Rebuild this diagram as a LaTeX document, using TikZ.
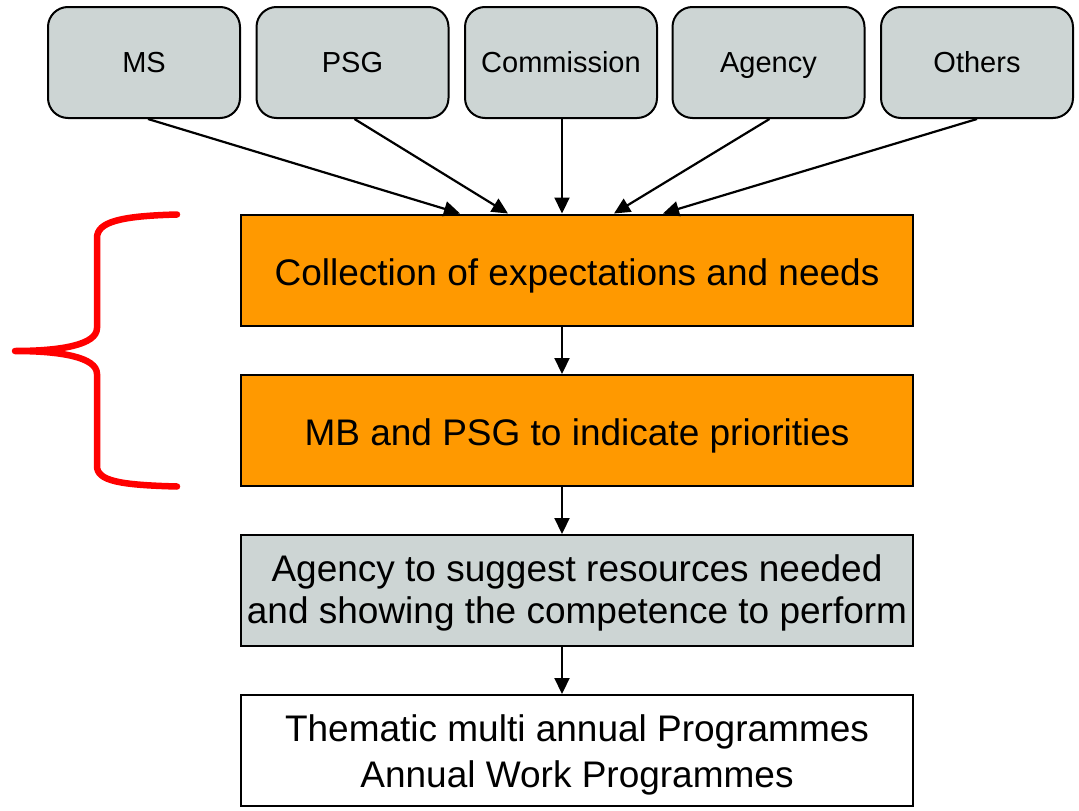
\documentclass[tikz,border=0pt]{standalone}
\usepackage{fontspec}
\setmainfont{Liberation Sans}
\usetikzlibrary{arrows.meta}
\definecolor{boxgray}{RGB}{205,213,212}
\definecolor{boxorange}{RGB}{255,153,0}
\definecolor{bracered}{RGB}{255,0,0}
\tikzset{
  topbox/.style={draw=black, line width=2pt, fill=boxgray, rounded corners=20pt,
    minimum width=192pt, minimum height=111pt, inner sep=0pt,
    text height=25pt, text depth=5pt,
    font=\fontsize{29}{34}\selectfont},
  mainbox/.style={draw=black, line width=2pt, minimum width=672pt, minimum height=111pt,
    inner sep=0pt, align=center, font=\fontsize{37}{42}\selectfont},
  oneline/.style={text height=35pt, text depth=5pt},
  arr/.style={line width=2.2pt, -{Triangle[length=16pt,width=15pt]}},
}
\begin{document}
\begin{tikzpicture}[x=1pt,y=-1pt]
\useasboundingbox (0,0) rectangle (1079,811);
% top boxes
\node[topbox] (ms) at (144,62.5) {MS};
\node[topbox] (psg) at (352.5,62.5) {PSG};
\node[topbox] (com) at (561,62.5) {Commission};
\node[topbox] (ag) at (768.5,62.5) {Agency};
\node[topbox] (oth) at (977,62.5) {Others};
% main boxes
\node[mainbox, oneline, fill=boxorange] (coll) at (577,270) {Collection of expectations and needs};
\node[mainbox, oneline, fill=boxorange] (prio) at (577,430.5) {MB and PSG to indicate priorities};
\node[mainbox, fill=boxgray, text height=77pt, text depth=11pt] (agy) at (577,590.5) {Agency to suggest resources needed\\and showing the competence to perform};
\node[mainbox, fill=white, font=\fontsize{37}{45.5}\selectfont, text height=80.5pt, text depth=7pt] (prog) at (577,750.5) {Thematic multi annual Programmes\\Annual Work Programmes};
% arrows from top boxes
\draw[arr] ([xshift=4pt]ms.south) -- ([xshift=-117pt]coll.north);
\draw[arr] ([xshift=2pt]psg.south) -- ([xshift=-69pt]coll.north);
\draw[arr] ([xshift=1pt]com.south) -- ([xshift=-15pt]coll.north);
\draw[arr] ([xshift=1pt]ag.south) -- ([xshift=37pt]coll.north);
\draw[arr] (oth.south) -- ([xshift=86pt]coll.north);
% vertical arrows
\draw[arr] ([xshift=-15pt]coll.south) -- ([xshift=-15pt]prio.north);
\draw[arr] ([xshift=-15pt]prio.south) -- ([xshift=-15pt]agy.north);
\draw[arr] ([xshift=-15pt]agy.south) -- ([xshift=-15pt]prog.north);
% brace
\coordinate (bt) at (177,214.5);
\coordinate (bm) at (15,351);
\coordinate (bb) at (177,486.5);
\draw[bracered, line width=6.5pt, line cap=round, line join=round]
  (bt) .. controls (120,216) and (97,222) .. (97,238)
  -- (97,328) .. controls (97,345) and (60,351) .. (bm)
  .. controls (60,351) and (97,357) .. (97,374)
  -- (97,466) .. controls (97,481) and (120,485) .. (bb);
\end{tikzpicture}
\end{document}
